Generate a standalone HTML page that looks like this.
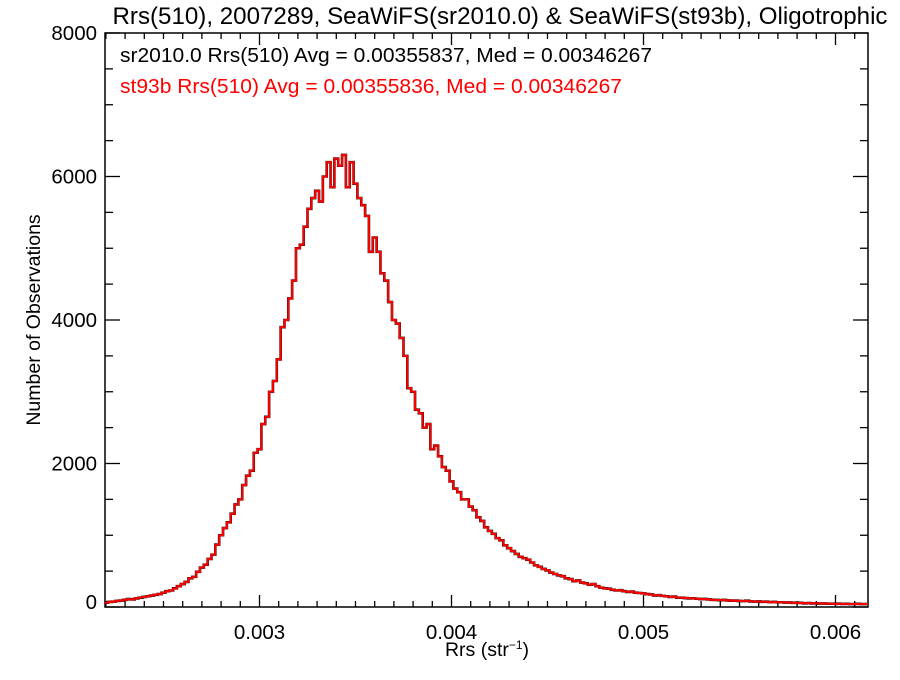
<!DOCTYPE html>
<html><head><meta charset="utf-8"><style>
body{margin:0;background:#fff}
svg text{font-family:"Liberation Sans",Arial,sans-serif}
</style></head><body>
<svg id="chart" width="900" height="675" xmlns="http://www.w3.org/2000/svg">
<rect width="900" height="675" fill="#fff"/>
<text x="500" y="24" font-size="24" text-anchor="middle" textLength="775" lengthAdjust="spacingAndGlyphs">Rrs(510), 2007289, SeaWiFS(sr2010.0) &amp; SeaWiFS(st93b), Oligotrophic</text>
<text x="120" y="62" font-size="20.5" textLength="532" lengthAdjust="spacingAndGlyphs">sr2010.0 Rrs(510) Avg = 0.00355837, Med = 0.00346267</text>
<text x="120" y="93" font-size="20.5" fill="#ff0000" textLength="502" lengthAdjust="spacingAndGlyphs">st93b Rrs(510) Avg = 0.00355836, Med = 0.00346267</text>
<text x="487" y="656" font-size="19.5" text-anchor="middle">Rrs (str<tspan font-size="12" dy="-7">−1</tspan><tspan dy="7">)</tspan></text>
<text transform="translate(40,320) rotate(-90)" font-size="19.5" text-anchor="middle">Number of Observations</text>
<g id="axes"></g>
<g id="series"></g>
</svg>
<script>
const binStart = 0.00220;
const binWidth = 0.00002;
const counts = [
60,70,75,85,90,100,110,105,120,130,
140,150,160,170,180,200,220,230,260,290,
320,350,400,420,490,550,590,670,730,870,
1000,1100,1180,1300,1430,1500,1700,1830,1900,2150,
2200,2550,2650,3000,3150,3450,3900,4000,4300,4550,
5000,5050,5300,5550,5700,5800,5650,6000,6200,5850,
6250,6150,6300,5850,6200,5900,5700,5600,5450,4950,
5150,4950,4650,4550,4250,4000,3950,3750,3500,3050,
3000,2750,2700,2500,2550,2200,2250,2100,1950,1900,
1750,1650,1600,1500,1500,1400,1350,1250,1200,1110,
1060,1020,960,930,860,820,780,740,700,680,
660,620,580,560,530,510,480,460,440,430,
400,390,360,370,340,330,310,320,290,270,
260,255,240,230,235,220,210,215,200,195,
190,180,175,160,165,155,150,140,145,130,
130,125,120,122,115,110,112,105,100,98,
95,98,92,88,90,85,82,88,78,75,
78,72,74,68,70,66,66,62,64,58,
60,56,52,55,50,52,48,50,46,47,
44,46,42,44,40,42,44,40,42
];
const xTicks = [0.003, 0.004, 0.005, 0.006];
const xTickLabels = ["0.003", "0.004", "0.005", "0.006"];
const yTicks = [0, 2000, 4000, 6000, 8000];
const yTickLabels = ["0", "2000", "4000", "6000", "8000"];

const L = 105, R = 868, T = 33, B = 607;
const yMin = 0, yMax = 8000;
const X = v => 259.5 + (v - 0.003) * 192000;
const Y = v => B - (v - yMin) / (yMax - yMin) * (B - T);
const NS = "http://www.w3.org/2000/svg";
const axes = document.getElementById('axes');
const series = document.getElementById('series');
function mk(tag, attrs, parent) { const e = document.createElementNS(NS, tag); for (const k in attrs) e.setAttribute(k, attrs[k]); parent.appendChild(e); return e; }

const frame = mk('rect', {x: L, y: T, width: R - L, height: B - T, fill: 'none', stroke: '#000', 'stroke-width': 1.5}, axes);



for (let k = 22; k <= 61; k++) {
  const v = k / 10000; const x = X(v); if (x < L || x > R) continue;
  const major = k % 10 === 0; const len = major ? 12 : 6;
  const t1 = mk('line', {x1: x, x2: x, y1: B, y2: B - len, stroke: '#000', 'stroke-width': 1.3}, axes);
  
  
  const t2 = mk('line', {x1: x, x2: x, y1: T, y2: T + len, stroke: '#000', 'stroke-width': 1.3}, axes);
  
  
}
xTicks.forEach((v, i) => {
  const t = mk('text', {x: X(v), y: 639, 'font-size': 20.5, 'text-anchor': 'middle'}, axes);
  t.textContent = xTickLabels[i];
  
  
});
for (let v = 0; v <= 8000; v += 500) {
  const y = Y(v); const major = v % 2000 === 0; const len = major ? 15 : 8;
  const t1 = mk('line', {x1: L, x2: L + len, y1: y, y2: y, stroke: '#000', 'stroke-width': 1.3}, axes);
  
  
  const t2 = mk('line', {x1: R, x2: R - len, y1: y, y2: y, stroke: '#000', 'stroke-width': 1.3}, axes);
  
  
}
yTicks.forEach((v, i) => {
  const yy = Math.min(Y(v), 602);
  const t = mk('text', {x: 97, y: yy + 7, 'font-size': 20.5, 'text-anchor': 'end'}, axes);
  t.textContent = yTickLabels[i];
  
  
});

let d = '';
counts.forEach((c, i) => {
  const x0 = Math.max(L, X(binStart + binWidth * i - binWidth / 2));
  const x1 = Math.min(R, X(binStart + binWidth * i + binWidth / 2));
  const y = Y(c);
  d += (i === 0 ? 'M' : 'L') + x0.toFixed(2) + ' ' + y.toFixed(2) + ' L' + x1.toFixed(2) + ' ' + y.toFixed(2) + ' ';
});
const p1 = mk('path', {d: d, fill: 'none', stroke: '#000', 'stroke-width': 2.6}, series);


const p2 = mk('path', {d: d, fill: 'none', stroke: '#ff0000', 'stroke-width': 2}, series);


</script>
</body></html>
